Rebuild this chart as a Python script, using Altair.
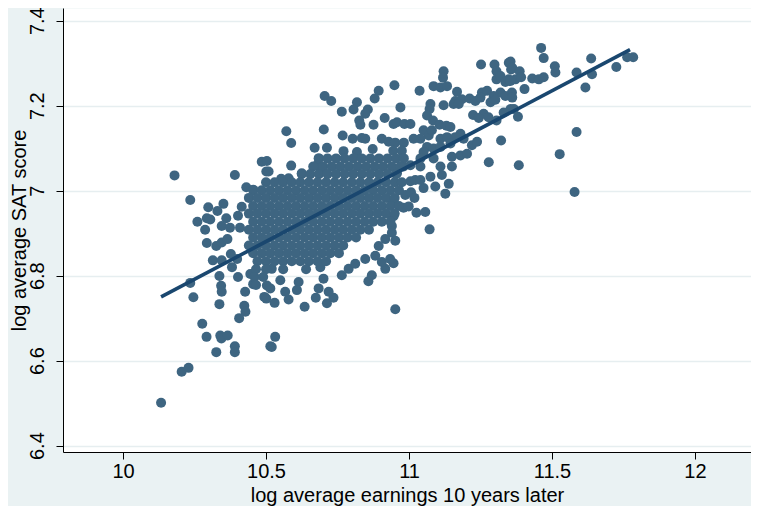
import altair as alt
import pandas as pd

# ---- tick values / labels ----
x_ticks = [10, 10.5, 11, 11.5, 12]
y_ticks = [6.4, 6.6, 6.8, 7.0, 7.2, 7.4]

# ---- fitted line ----
fit_x = [10.133, 11.773]
fit_y = [6.750, 7.332]

# ---- scattered points (earnings, SAT) ----
left_tail = [
    (10.133, 6.501), (10.205, 6.574), (10.229, 6.583), (10.235, 6.783), (10.246, 6.749),
    (10.277, 6.687), (10.292, 6.656), (10.326, 6.620), (10.340, 6.659), (10.344, 6.652),
    (10.366, 6.659), (10.391, 6.634), (10.391, 6.620), (10.337, 6.733), (10.343, 6.776),
    (10.345, 6.762), (10.337, 6.799), (10.427, 6.762), (10.424, 6.729), (10.428, 6.715),
    (10.406, 6.700), (10.494, 6.750), (10.515, 6.634), (10.503, 6.777), (10.445, 6.804),
    (10.455, 6.780),
]

left_cluster = [
    (10.180, 7.036), (10.391, 7.037), (10.235, 6.978), (10.298, 6.961), (10.351, 6.969),
    (10.330, 6.952), (10.260, 6.927), (10.293, 6.935), (10.305, 6.932), (10.361, 6.935),
    (10.345, 6.917), (10.293, 6.877), (10.326, 6.870), (10.345, 6.878), (10.365, 6.886),
    (10.314, 6.836), (10.345, 6.836), (10.377, 6.851), (10.415, 6.962), (10.431, 7.008),
    (10.456, 7.002), (10.485, 7.068), (10.501, 7.045), (10.287, 6.908), (10.374, 6.913),
    (10.399, 6.839), (10.402, 6.797), (10.409, 6.913), (10.402, 6.941), (10.381, 6.820),
]

lower_mid = [
    (10.530, 6.736), (10.579, 6.744), (10.635, 6.727), (10.674, 6.748), (10.713, 6.735),
    (10.736, 6.748), (10.532, 6.656), (10.520, 6.632), (10.952, 6.721), (10.501, 6.746),
    (10.917, 6.816), (10.946, 6.829), (10.520, 6.816), (10.550, 6.789), (10.515, 6.770),
    (10.567, 6.762), (10.614, 6.785), (10.608, 6.766), (10.690, 6.820), (10.701, 6.793),
    (10.684, 6.770), (10.719, 6.762), (10.765, 6.801), (10.789, 6.816), (10.812, 6.828),
    (10.858, 6.787), (10.870, 6.801), (10.847, 6.839), (10.882, 6.847), (10.905, 6.832),
    (10.934, 6.839), (10.917, 6.886), (10.940, 6.901), (10.894, 6.870), (10.952, 6.882),
    (10.940, 6.917), (10.946, 6.940), (10.946, 6.971), (11.072, 6.909),
]

upper_mid = [
    (10.705, 7.223), (10.728, 7.211), (10.765, 7.186), (10.818, 7.208), (10.806, 7.191),
    (10.856, 7.191), (10.847, 7.181), (10.880, 7.217), (10.894, 7.235), (10.915, 7.171),
    (10.946, 7.157), (10.826, 7.165), (10.830, 7.155), (10.876, 7.155), (10.571, 7.140),
    (10.588, 7.112), (10.702, 7.144), (10.768, 7.130), (10.803, 7.122), (10.835, 7.124),
    (10.847, 7.122), (10.670, 7.101), (10.713, 7.101), (10.771, 7.093), (10.818, 7.091),
    (10.905, 7.122), (10.929, 7.115), (10.873, 7.098), (10.588, 7.059), (10.503, 7.070),
    (10.509, 7.045), (10.553, 7.028), (10.579, 7.029), (10.625, 7.041), (10.684, 7.076),
    (10.678, 7.060), (10.695, 7.045),
]

right_band = [
    (11.252, 7.297), (11.299, 7.297), (11.306, 7.281), (11.349, 7.301), (11.357, 7.285),
    (11.121, 7.281), (11.119, 7.266), (10.949, 7.248), (11.037, 7.235), (11.086, 7.246),
    (11.110, 7.243), (11.133, 7.246), (11.168, 7.233), (11.255, 7.231), (11.273, 7.235),
    (11.306, 7.262), (11.320, 7.270), (11.337, 7.256), (11.349, 7.262), (11.372, 7.262),
    (11.320, 7.231), (11.337, 7.223), (11.360, 7.231), (11.296, 7.223), (11.162, 7.211),
    (11.185, 7.215), (11.212, 7.217), (11.232, 7.211), (11.250, 7.219), (10.970, 7.196),
    (11.075, 7.204), (11.121, 7.201), (11.156, 7.204), (11.174, 7.204), (11.285, 7.208),
    (11.302, 7.214), (11.224, 7.178), (11.261, 7.181), (11.244, 7.171), (11.278, 7.173),
    (11.072, 7.192), (11.063, 7.177), (11.084, 7.165), (11.107, 7.155), (11.131, 7.153),
    (11.145, 7.150), (10.958, 7.161), (10.984, 7.157), (11.005, 7.157), (11.355, 7.192),
    (11.331, 7.184), (11.306, 7.165), (11.180, 7.134), (11.162, 7.126), (11.191, 7.122),
    (11.051, 7.142), (11.069, 7.130), (11.080, 7.142), (11.040, 7.122), (11.016, 7.122),
    (11.110, 7.122), (11.133, 7.126), (11.145, 7.111), (11.063, 7.103), (11.086, 7.099),
    (11.051, 7.091), (11.110, 7.103), (11.150, 7.080), (11.180, 7.083), (11.203, 7.087),
    (11.220, 7.107), (11.238, 7.115), (11.322, 7.118), (11.279, 7.067), (11.040, 7.076),
    (11.086, 7.076), (11.005, 7.060), (11.040, 7.057),
]

mid_right = [
    (11.110, 7.057), (11.150, 7.057), (11.075, 7.033), (11.115, 7.037), (11.092, 7.010),
    (11.139, 7.016), (11.127, 6.993), (11.051, 7.006), (11.005, 7.022), (11.022, 7.025),
    (11.040, 7.025), (10.987, 6.990), (11.007, 6.996), (11.019, 6.983), (10.981, 6.960),
    (10.999, 6.963), (11.026, 6.948), (11.057, 6.950), (10.958, 7.041), (10.981, 7.057),
]

far_right = [
    (11.462, 7.336), (11.471, 7.312), (11.355, 7.304), (11.361, 7.289), (11.387, 7.281),
    (11.392, 7.267), (11.355, 7.258), (11.404, 7.239), (11.361, 7.219), (11.367, 7.192),
    (11.381, 7.174), (11.431, 7.264), (11.454, 7.262), (11.471, 7.267), (11.510, 7.293),
    (11.512, 7.278), (11.586, 7.278), (11.617, 7.243), (11.637, 7.311), (11.640, 7.274),
    (11.725, 7.291), (11.763, 7.314), (11.784, 7.314), (11.586, 7.138), (11.384, 7.060),
    (11.527, 7.086), (11.579, 6.997),
]

# ---- dense core of the cloud: SAT row -> earnings values ----
core_rows = {
    7.113: [10.952, 10.982],
    7.094: [10.945, 10.975],
    7.076: [10.685, 10.715, 10.745, 10.775, 10.805, 10.835, 10.865, 10.895, 10.925, 10.955, 10.982],
    7.057: [10.665, 10.700, 10.730, 10.760, 10.790, 10.820, 10.850, 10.880, 10.910, 10.940, 10.970],
    7.039: [10.625, 10.655, 10.685, 10.715, 10.745, 10.775, 10.805, 10.835, 10.865, 10.895, 10.925, 10.955],
    7.020: [10.500, 10.530, 10.560, 10.590, 10.620, 10.650, 10.680, 10.710, 10.740, 10.770, 10.800,
            10.830, 10.860, 10.890, 10.920, 10.950, 10.975],
    7.001: [10.455, 10.485, 10.515, 10.545, 10.575, 10.605, 10.635, 10.665, 10.695, 10.725, 10.755,
            10.785, 10.815, 10.845, 10.875, 10.905, 10.935, 10.965],
    6.983: [10.440, 10.470, 10.500, 10.530, 10.560, 10.590, 10.620, 10.650, 10.680, 10.710, 10.740,
            10.770, 10.800, 10.830, 10.860, 10.890, 10.920, 10.950],
    6.964: [10.455, 10.485, 10.515, 10.545, 10.575, 10.605, 10.635, 10.665, 10.695, 10.725, 10.755,
            10.785, 10.815, 10.845, 10.875, 10.905, 10.935, 10.965],
    6.946: [10.440, 10.470, 10.500, 10.530, 10.560, 10.590, 10.620, 10.650, 10.680, 10.710, 10.740,
            10.770, 10.800, 10.830, 10.860, 10.890, 10.920, 10.950],
    6.927: [10.455, 10.485, 10.515, 10.545, 10.575, 10.605, 10.635, 10.665, 10.695, 10.725, 10.755,
            10.785, 10.815, 10.845, 10.875, 10.905, 10.935],
    6.908: [10.440, 10.470, 10.500, 10.530, 10.560, 10.590, 10.620, 10.650, 10.680, 10.710, 10.740,
            10.770, 10.800, 10.830, 10.860],
    6.890: [10.455, 10.485, 10.515, 10.545, 10.575, 10.605, 10.635, 10.665, 10.695, 10.725, 10.755,
            10.785, 10.815],
    6.871: [10.440, 10.470, 10.500, 10.530, 10.560, 10.590, 10.620, 10.650, 10.680, 10.710, 10.740, 10.770],
    6.853: [10.455, 10.485, 10.515, 10.545, 10.575, 10.605, 10.635, 10.665, 10.695, 10.725, 10.755],
    6.834: [10.470, 10.500, 10.530, 10.560, 10.590, 10.620, 10.650, 10.680, 10.710],
    6.815: [10.465, 10.500, 10.560, 10.640],
    6.797: [10.460, 10.490],
    6.778: [10.465],
}

rows = []
for group in (left_tail, left_cluster, lower_mid, upper_mid, right_band, mid_right, far_right):
    rows.extend(group)
for sat_val, earn_vals in core_rows.items():
    rows.extend((e, sat_val) for e in earn_vals)

df = pd.DataFrame(rows, columns=["earn", "sat"])
fit_df = pd.DataFrame({"earn": fit_x, "sat": fit_y})

FONT = "Liberation Sans"
x_scale = alt.Scale(domain=[9.790, 12.196], nice=False, zero=False)
y_scale = alt.Scale(domain=[6.385, 7.4299], nice=False, zero=False)

x_axis = alt.Axis(
    values=x_ticks, format="~g", title="log average earnings 10 years later",
    grid=False, domainColor="black", domainWidth=1, tickColor="black", tickSize=7, tickWidth=1,
    labelFont=FONT, labelFontSize=20, labelColor="black", labelPadding=2, labelFlush=False,
    titleFont=FONT, titleFontSize=20, titleFontWeight="normal", titleColor="black",
    titleBaseline="alphabetic", titleY=49,
)
y_axis = alt.Axis(
    values=y_ticks, format="~g", title="log average SAT score",
    grid=True, gridColor="#E6EEF0", gridWidth=1.5,
    domainColor="black", domainWidth=1, tickColor="black", tickSize=7, tickWidth=1,
    labelFont=FONT, labelFontSize=20, labelColor="black", labelAngle=270,
    labelAlign="center", labelBaseline="middle", labelPadding=19, labelFlush=False,
    titleFont=FONT, titleFontSize=20, titleFontWeight="normal", titleColor="black",
    titleAngle=270, titleAlign="center", titleBaseline="middle", titleX=-44, titleY=222,
)

points = alt.Chart(df).mark_circle(size=100, color="#3E6581", opacity=1).encode(
    x=alt.X("earn:Q", scale=x_scale, axis=x_axis),
    y=alt.Y("sat:Q", scale=y_scale, axis=y_axis),
)
line = alt.Chart(fit_df).mark_line(color="#1A476F", strokeWidth=3.6).encode(
    x=alt.X("earn:Q", scale=x_scale),
    y=alt.Y("sat:Q", scale=y_scale),
)

chart = alt.layer(points, line).properties(
    width=688, height=444, background="#EAF2F3",
    padding={"left": 55, "top": 0, "right": 0, "bottom": 54},
    autosize=alt.AutoSizeParams(type="none"),
).configure_view(fill="white", strokeOpacity=0)

chart.save("out.html", embed_options={"renderer": "svg", "actions": False})
